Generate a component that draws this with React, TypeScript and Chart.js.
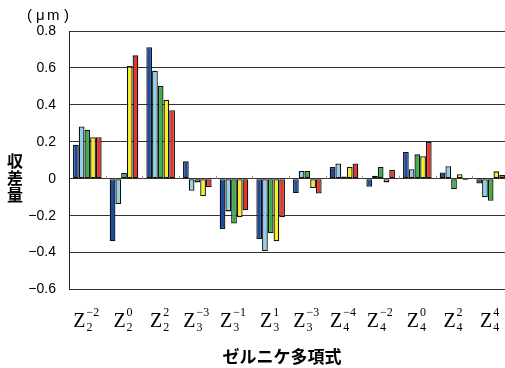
import React, { useEffect, useRef } from "react";
import { Chart, registerables } from "chart.js";

Chart.register(...registerables);

// Zernike terms Z_n^m along the horizontal axis
const orderN = [2, 2, 2, 3, 3, 3, 3, 4, 4, 4, 4, 4];
const orderM = [-2, 0, 2, -3, -1, 1, -3, -4, -2, 0, 2, 4];

// aberration amounts (µm) per term, five series
const series1 = [0.184, -0.339, 0.712, 0.094, -0.272, -0.326, -0.078, 0.064, -0.044, 0.145, 0.034, -0.026];
const series2 = [0.283, -0.137, 0.585, -0.065, -0.177, -0.393, 0.042, 0.082, 0.016, 0.051, 0.068, -0.1];
const series3 = [0.265, 0.032, 0.503, -0.02, -0.243, -0.294, 0.042, 0.012, 0.064, 0.132, -0.057, -0.12];
const series4 = [0.225, 0.61, 0.427, -0.095, -0.209, -0.339, -0.05, 0.064, -0.02, 0.122, 0.024, 0.04];
const series5 = [0.225, 0.668, 0.371, -0.045, -0.171, -0.209, -0.08, 0.082, 0.048, 0.199, -0.008, 0.02];

const seriesNames = ["系列1", "系列2", "系列3", "系列4", "系列5"];
const seriesColors = ["#1c4c9e", "#8fd0ea", "#3dae48", "#f7ef1f", "#e6352d"];

const yMin = -0.6;
const yMax = 0.8;
const yStep = 0.2;

const xTitle = "ゼルニケ多項式";
const yTitle = ["収", "差", "量"];

const fmtScript = (v: number) => (v < 0 ? "−" + Math.abs(v) : String(v));

const zernikeLabels = {
  id: "zernikeLabels",
  afterDraw(chart: any) {
    const { ctx } = chart;
    const xs = chart.scales.x;
    const ys = chart.scales.y;
    ctx.save();

    // small tick marks on the zero line between categories
    const y0 = ys.getPixelForValue(0);
    ctx.strokeStyle = "#999";
    ctx.lineWidth = 1;
    for (let i = 1; i < orderN.length; i++) {
      const xb = Math.round((xs.getPixelForValue(i - 1) + xs.getPixelForValue(i)) / 2) + 0.5;
      ctx.beginPath();
      ctx.moveTo(xb, y0 - 3);
      ctx.lineTo(xb, y0);
      ctx.stroke();
    }

    // Z_n^m category labels
    ctx.fillStyle = "#000";
    ctx.textBaseline = "alphabetic";
    ctx.textAlign = "left";
    const zFont = '20px "Liberation Serif", "DejaVu Serif", serif';
    const sFont = '12px "Liberation Serif", "DejaVu Serif", serif';
    for (let i = 0; i < orderN.length; i++) {
      const cx = xs.getPixelForValue(i);
      ctx.font = zFont;
      const zw = ctx.measureText("Z").width;
      ctx.font = sFont;
      const sup = fmtScript(orderM[i]);
      const sub = String(orderN[i]);
      const sw = Math.max(ctx.measureText(sup).width, ctx.measureText(sub).width);
      const total = zw + 1 + sw;
      const left = cx - total / 2 - 1;
      ctx.font = zFont;
      ctx.fillText("Z", left, 327);
      ctx.font = sFont;
      ctx.fillText(sup, left + zw + 1, 316);
      ctx.fillText(sub, left + zw + 1, 331);
    }

    // axis titles
    ctx.font = 'bold 17px "Noto Sans CJK JP", sans-serif';
    ctx.textAlign = "center";
    ctx.textBaseline = "middle";
    ctx.fillText(xTitle, 282, 357);
    ctx.font = 'bold 16px "Noto Sans CJK JP", sans-serif';
    yTitle.forEach((ch, k) => ctx.fillText(ch, 15, 161 + k * 17));

    // unit
    ctx.font = '15px "Liberation Sans", Arial, sans-serif';
    ctx.textAlign = "left";
    ctx.textBaseline = "middle";
    ctx.fillText("(", 27, 16);
    ctx.fillText("μ", 36, 16);
    ctx.fillText("m", 47, 16);
    ctx.fillText(")", 64, 16);
    ctx.restore();
  },
};

export default function App() {
  const ref = useRef<HTMLCanvasElement | null>(null);

  useEffect(() => {
    if (!ref.current) return;
    const data = [series1, series2, series3, series4, series5];
    const chart = new Chart(ref.current, {
      type: "bar",
      data: {
        labels: orderN.map((n, i) => `Z${n}^${orderM[i]}`),
        datasets: data.map((d, k) => ({
          label: seriesNames[k],
          data: d,
          backgroundColor: seriesColors[k],
          borderColor: "#111",
          borderWidth: 1.3,
          borderSkipped: false,
          categoryPercentage: 0.78,
          barPercentage: 1.0,
        })),
      },
      options: {
        responsive: false,
        animation: false,
        devicePixelRatio: 1,
        layout: { padding: { top: 31, bottom: 78.5, left: 0, right: 11 } },
        plugins: { legend: { display: false }, tooltip: { enabled: false } },
        scales: {
          x: { display: false },
          y: {
            min: yMin,
            max: yMax,
            afterFit: (scale: any) => {
              scale.width = 69;
            },
            ticks: {
              stepSize: yStep,
              padding: 13,
              color: "#000",
              font: { family: '"Liberation Sans", Arial, sans-serif', size: 14 },
              callback: (v: any) => {
                const n = Number(v);
                if (Math.abs(n) < 1e-9) return "0";
                return (n < 0 ? "−" : "") + Math.abs(n).toFixed(1);
              },
            },
            grid: { color: "#333", lineWidth: 1, drawTicks: false },
            border: { display: true, color: "#222", width: 1 },
          },
        },
      },
      plugins: [zernikeLabels],
    });
    return () => chart.destroy();
  }, []);

  return (
    <div style={{ position: "fixed", left: 0, top: 0, width: 505, height: 368, overflow: "hidden", background: "#fff" }}>
      <canvas ref={ref} width={520} height={368} style={{ display: "block" }} />
    </div>
  );
}
